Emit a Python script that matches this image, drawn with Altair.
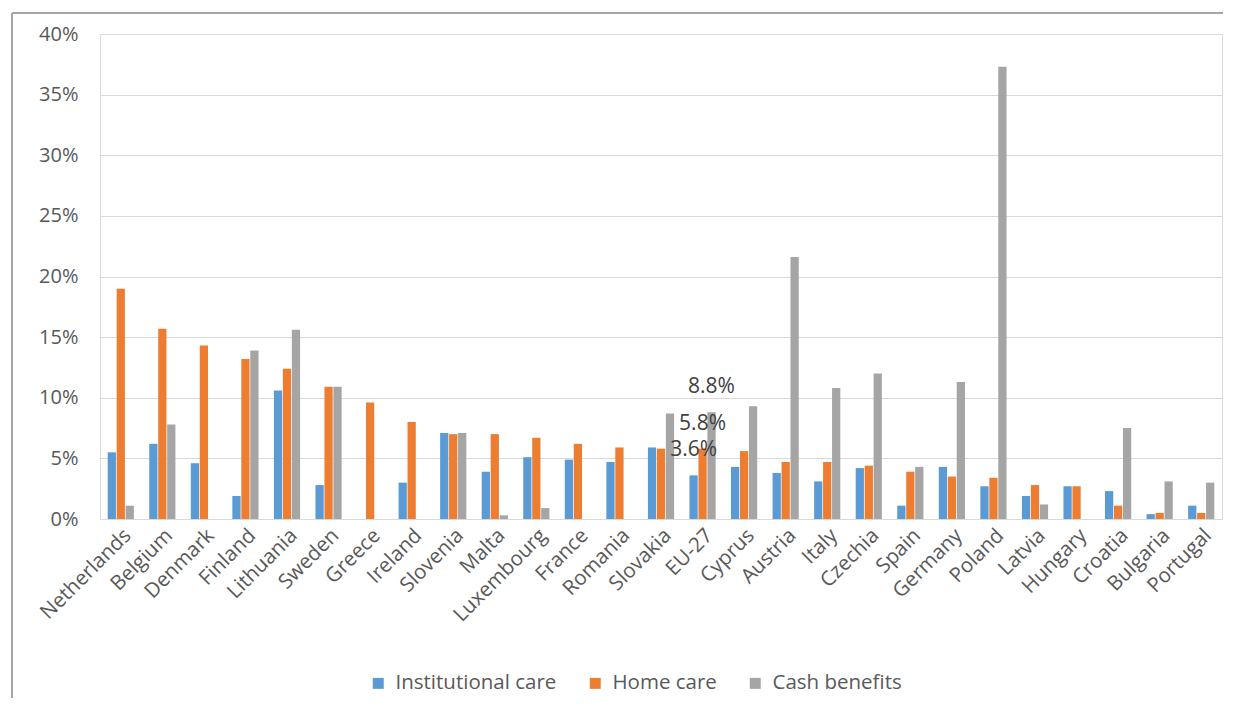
import altair as alt
import pandas as pd

countries = ["Netherlands", "Belgium", "Denmark", "Finland", "Lithuania", "Sweden", "Greece",
             "Ireland", "Slovenia", "Malta", "Luxembourg", "France", "Romania", "Slovakia",
             "EU-27", "Cyprus", "Austria", "Italy", "Czechia", "Spain", "Germany", "Poland",
             "Latvia", "Hungary", "Croatia", "Bulgaria", "Portugal"]
institutional = [5.5, 6.2, 4.6, 1.9, 10.6, 2.8, None, 3.0, 7.1, 3.9, 5.1, 4.9, 4.7, 5.9,
                 3.6, 4.3, 3.8, 3.1, 4.2, 1.1, 4.3, 2.7, 1.9, 2.7, 2.3, 0.4, 1.1]
home_care = [19.0, 15.7, 14.3, 13.2, 12.4, 10.9, 9.6, 8.0, 7.0, 7.0, 6.7, 6.2, 5.9, 5.8,
             5.8, 5.6, 4.7, 4.7, 4.4, 3.9, 3.5, 3.4, 2.8, 2.7, 1.1, 0.5, 0.5]
cash_benefits = [1.1, 7.8, None, 13.9, 15.6, 10.9, None, None, 7.1, 0.3, 0.9, None, None, 8.7,
                 8.8, 9.3, 21.6, 10.8, 12.0, 4.3, 11.3, 37.3, 1.2, None, 7.5, 3.1, 3.0]
series = ["Institutional care", "Home care", "Cash benefits"]
colors = ["#5B9BD5", "#ED7D31", "#A5A5A5"]
y_ticks = [0, 0.05, 0.10, 0.15, 0.20, 0.25, 0.30, 0.35, 0.40]
labelled = "EU-27"

rows = []
for s, vals in zip(series, [institutional, home_care, cash_benefits]):
    for c, v in zip(countries, vals):
        if v is not None:
            rows.append({"country": c, "series": s, "value": v / 100.0})
df = pd.DataFrame(rows)

FONT = "Open Sans"

x_enc = alt.X("country:N", sort=countries, title=None,
              scale=alt.Scale(paddingInner=0.37, paddingOuter=0.185),
              axis=alt.Axis(labelAngle=-45, labelFontSize=20.5, labelColor="#595959",
                            labelFont=FONT, ticks=False, labelPadding=6,
                            domainColor="#d9d9d9", grid=False))
xoff = alt.XOffset("series:N", sort=series, scale=alt.Scale(paddingInner=0.08))
y_enc = alt.Y("value:Q", title=None,
              scale=alt.Scale(domain=[0, 0.4], nice=False),
              axis=alt.Axis(values=y_ticks, format=".0%", labelFontSize=20,
                            labelColor="#595959", labelFont=FONT, ticks=False, tickSize=0,
                            labelPadding=22, domain=False, gridColor="#d9d9d9"))

bars = alt.Chart(df).mark_bar().encode(
    x=x_enc, xOffset=xoff, y=y_enc,
    color=alt.Color("series:N", sort=series,
                    scale=alt.Scale(domain=series, range=colors),
                    legend=alt.Legend(title=None, orient="none", legendX=268, legendY=639,
                                      direction="horizontal", symbolType="square",
                                      symbolSize=120, symbolStrokeWidth=0,
                                      labelFontSize=20.5, labelFont=FONT, labelLimit=400,
                                      labelColor="#595959", columnPadding=28,
                                      labelOffset=7)),
)

labels = alt.Chart(df).transform_filter(
    alt.datum.country == labelled
).mark_text(dy=-25, fontSize=21, font=FONT, color="#404040", baseline="middle").encode(
    x=alt.X("country:N", sort=countries), xOffset=xoff, y="value:Q",
    text=alt.Text("value:Q", format=".1%"),
)

frame_src = pd.DataFrame({"k": [0]})
frame_left = alt.Chart(frame_src).mark_rule(color="#A6A6A6", strokeWidth=2).encode(
    x=alt.value(-88), y=alt.value(-21), y2=alt.value(664))
frame_top = alt.Chart(frame_src).mark_rule(color="#A6A6A6", strokeWidth=2).encode(
    x=alt.value(-88), x2=alt.value(1123), y=alt.value(-21))

chart = alt.layer(bars, labels, frame_left, frame_top).properties(
    width=1122, height=485,
    padding={"left": 3, "top": 4, "right": 0, "bottom": 0},
).configure_view(stroke=None).configure(background="white")

chart.save("out.html", embed_options={"renderer": "svg", "actions": False})
